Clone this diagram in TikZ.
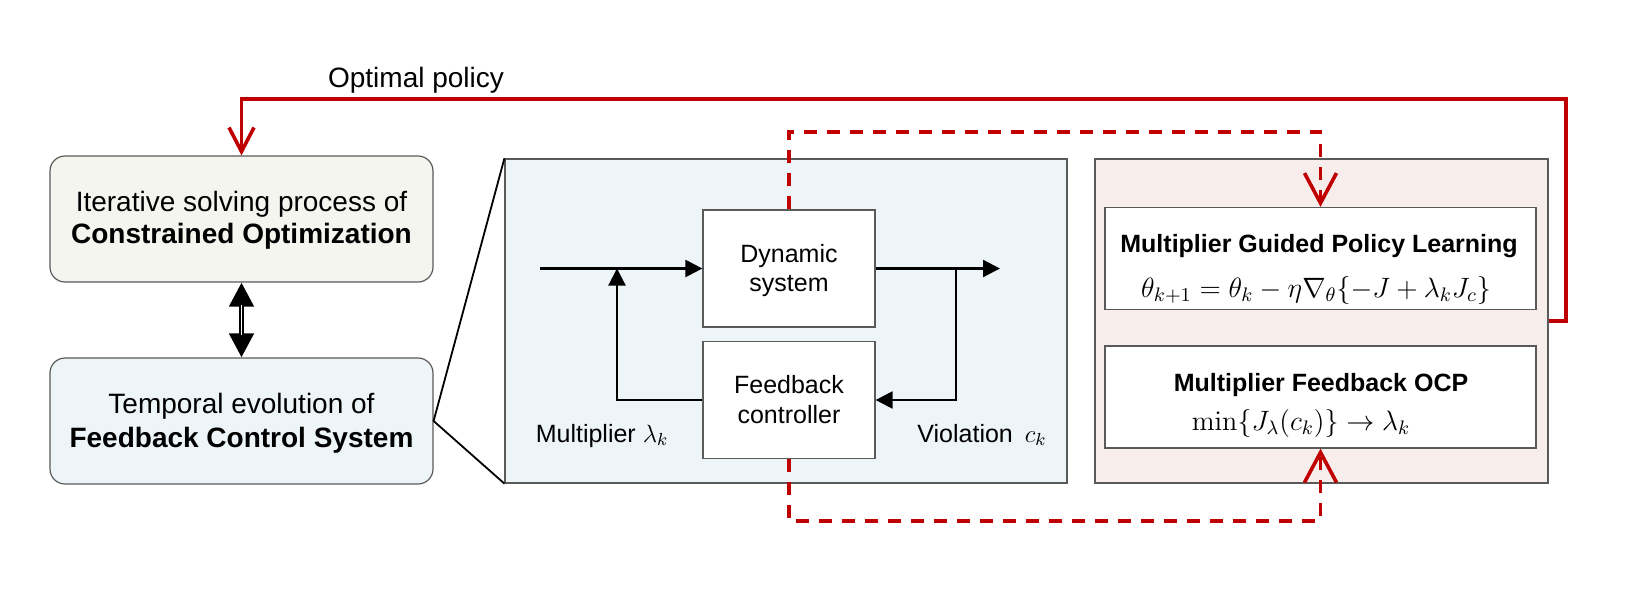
\documentclass[tikz,border=0pt]{standalone}
\usepackage{fix-cm}
\usepackage[no-math]{fontspec}
\setmainfont{Liberation Sans}
\usetikzlibrary{arrows.meta}
\definecolor{optfill}{HTML}{F3F5EE}
\definecolor{bluefill}{HTML}{EDF5F8}
\definecolor{pinkfill}{HTML}{F7EEEC}
\definecolor{bordergray}{HTML}{5A5A5A}
\definecolor{myred}{HTML}{C00000}
\begin{document}
\begin{tikzpicture}[x=0.5pt,y=-0.5pt,
  leftbox/.style={draw=bordergray, line width=0.6pt, rounded corners=7.5pt, minimum width=191.5pt, minimum height=63pt, inner sep=0pt},
  panel/.style={draw=bordergray, line width=0.6pt, inner sep=0pt},
  ctlbox/.style={draw=bordergray, fill=white, line width=0.6pt, minimum width=86pt, minimum height=58.5pt, inner sep=0pt},
  mgbox/.style={draw=bordergray, fill=white, line width=0.6pt, minimum width=215.5pt, minimum height=51pt, inner sep=0pt},
  bigtxt/.style={font=\fontsize{14}{16}\selectfont, inner sep=0pt, anchor=base},
  midtxt/.style={font=\fontsize{12.5}{15}\selectfont, inner sep=0pt, anchor=base},
  titletxt/.style={font=\fontsize{12.5}{15}\selectfont\bfseries, inner sep=0pt, anchor=base},
  eqtxt/.style={font=\fontsize{14}{16}\selectfont, inner sep=0pt, anchor=base},
  sig/.style={line width=1.1pt, -{Triangle[length=8.5pt,width=8.5pt]}},
  redsolid/.style={myred, line width=1.8pt},
  reddash/.style={myred, line width=1.8pt, dash pattern=on 6.5pt off 5pt},
  redtip/.style={-{Straight Barb[length=12pt,width=12.5pt]}},
  bigredtip/.style={-{Straight Barb[length=15pt,width=16pt]}},
]
\useasboundingbox (0,0) rectangle (1640,606);

% left boxes
\node[leftbox, fill=optfill] (opt) at (241.5,219) {};
\node[leftbox, fill=bluefill] (fcs) at (241.5,421) {};
\node[bigtxt] (optA) at (241.5,211) {Iterative solving process of};
\node[bigtxt, font=\fontsize{14}{16}\selectfont\bfseries] (optB) at (241.5,243) {Constrained Optimization};
\node[bigtxt] (fcsA) at (241.5,413) {Temporal evolution of};
\node[bigtxt, font=\fontsize{14}{16}\selectfont\bfseries] (fcsB) at (241.5,447) {Feedback Control System};

% double arrow
\draw[line width=2.4pt, {Triangle[length=12pt,width=12pt]}-{Triangle[length=12pt,width=12pt]}] (opt.south) -- (fcs.north);
\draw[white, line width=0.9pt, shorten <=11pt, shorten >=11pt] (opt.south) -- (fcs.north);

% panels
\node[panel, fill=bluefill, minimum width=281pt, minimum height=162pt] (blue) at (786,321) {};
\node[panel, fill=pinkfill, minimum width=226.5pt, minimum height=162pt] (pink) at (1321.5,321) {};

% zoom lines
\draw[line width=0.9pt] (blue.north west) -- (fcs.east) -- (blue.south west);

% control loop
\node[ctlbox] (dyn) at (789,268.5) {};
\node[ctlbox] (fb) at (789,400) {};
\node[midtxt] (dynA) at (789,262) {Dynamic};
\node[midtxt] (dynB) at (789,291) {system};
\node[midtxt] (fbA) at (789,393) {Feedback};
\node[midtxt] (fbB) at (789,423) {controller};

\coordinate (inp) at (540,268.5);
\coordinate (outp) at (1000,268.5);
\coordinate (rj) at (956,268.5);
\coordinate (rb) at (956,400);
\coordinate (lb) at (617,400);
\coordinate (lj) at (617,268.5);
\draw[sig] (inp) -- (dyn.west);
\draw[sig] (dyn.east) -- (outp);
\draw[sig] (rj) -- (rb) -- (fb.east);
\draw[sig] (fb.west) -- (lb) -- (lj);

\node[midtxt] (mult) at (602,442) {Multiplier $\lambda_k$};
\node[midtxt] (viol) at (982,442) {Violation\hspace{6pt}$c_k$};

% right boxes
\node[mgbox] (guided) at (1320.5,258.5) {};
\node[mgbox] (ocp) at (1320.5,397) {};
\node[titletxt] (guidedT) at (1319,252) {Multiplier Guided Policy Learning};
\node[eqtxt] (guidedE) at (1316,297) {$\theta_{k+1}=\theta_k-\eta\nabla_{\theta}\{-J+\lambda_k J_c\}$};
\node[titletxt] (ocpT) at (1321,391) {Multiplier Feedback OCP};
\node[eqtxt] (ocpE) at (1301,430) {$\min\{J_\lambda(c_k)\}\rightarrow\lambda_k$};

% red solid feedback
\coordinate (rs1) at (1566,321);
\coordinate (rs2) at (1566,99);
\coordinate (rs3) at (241.5,99);
\draw[redsolid, redtip] (pink.east) -- (rs1) -- (rs2) -- (rs3) -- (opt.north);
\node[bigtxt] (optpol) at (416,87) {Optimal policy};

% red dashed
\coordinate (td) at (1320.5,132);
\coordinate (bd) at (1320.5,521);
\draw[reddash, bigredtip] (dyn.north) |- (td) -- (guided.north);
\draw[reddash, bigredtip] (fb.south) |- (bd) -- (ocp.south);
\end{tikzpicture}
\end{document}
